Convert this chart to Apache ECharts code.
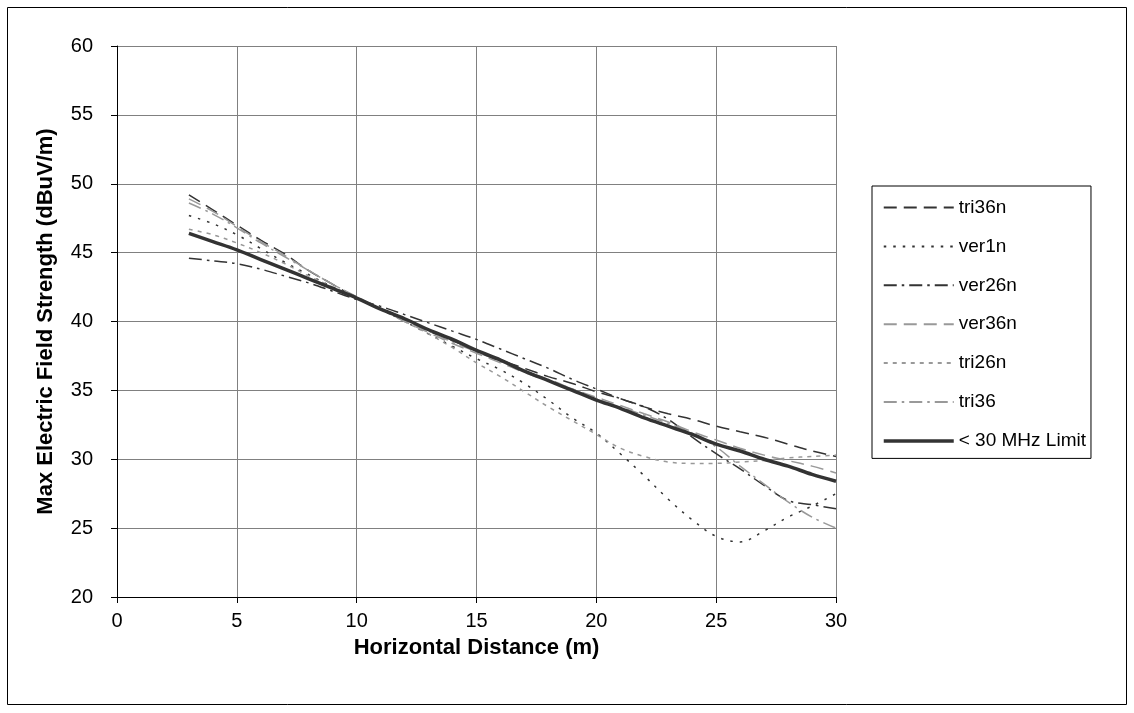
<!DOCTYPE html>
<html>
<head>
<meta charset="utf-8">
<script src="https://cdn.jsdelivr.net/npm/echarts@6/dist/echarts.min.js"></script>
<style>
html, body {margin: 0; padding: 0; background: #fff;}
#chart {width: 1134px; height: 713px;}
</style>
</head>
<body>
<div id="chart"></div>
<script>
// distance (m) of each reading
var distance = [3, 4, 5, 6, 7, 8, 9, 10, 11, 12, 13, 14, 15, 16, 17, 18, 19, 20, 21, 22, 23, 24, 25, 26, 27, 28, 29, 30]

var tri36n = [49.2, 48.1, 47.0, 45.9, 44.9, 43.7, 42.7, 41.7, 40.9, 40.1, 39.3, 38.6, 37.9, 37.2, 36.6, 36.0, 35.5, 34.9, 34.4, 33.8, 33.3, 32.9, 32.4, 32.0, 31.6, 31.1, 30.6, 30.2]
var ver1n = [47.7, 47.1, 46.3, 45.3, 44.3, 43.4, 42.5, 41.7, 40.9, 40.0, 39.1, 38.2, 37.3, 36.5, 35.5, 34.3, 33.0, 31.9, 30.4, 28.8, 27.1, 25.6, 24.4, 24.0, 24.8, 25.8, 26.6, 27.5]
var ver26n = [44.6, 44.4, 44.2, 43.8, 43.3, 42.8, 42.2, 41.6, 41.1, 40.5, 39.9, 39.3, 38.7, 38.0, 37.3, 36.6, 35.8, 35.1, 34.4, 33.8, 32.9, 31.6, 30.4, 29.3, 28.1, 27.0, 26.7, 26.4]
var ver36n = [48.9, 48.0, 46.9, 45.8, 44.8, 43.7, 42.7, 41.8, 40.9, 40.0, 39.2, 38.4, 37.7, 37.0, 36.3, 35.7, 35.1, 34.5, 33.9, 33.3, 32.7, 32.0, 31.4, 30.8, 30.3, 29.9, 29.5, 29.0]
var tri26n = [46.7, 46.3, 45.7, 45.0, 44.2, 43.3, 42.5, 41.7, 40.9, 40.0, 39.1, 38.1, 37.0, 36.0, 34.9, 33.8, 32.8, 31.8, 30.8, 30.2, 29.8, 29.7, 29.7, 29.8, 29.9, 30.1, 30.2, 30.3]
var tri36 = [48.6, 47.8, 46.8, 45.7, 44.7, 43.7, 42.7, 41.8, 40.9, 40.1, 39.3, 38.5, 37.8, 37.1, 36.4, 35.8, 35.1, 34.4, 33.8, 33.2, 32.6, 31.9, 30.9, 29.5, 28.2, 26.9, 25.8, 25.0]
var limit30 = [46.4, 45.8, 45.2, 44.5, 43.8, 43.1, 42.4, 41.7, 40.9, 40.2, 39.4, 38.7, 37.9, 37.2, 36.4, 35.7, 35.0, 34.3, 33.7, 33.0, 32.4, 31.8, 31.1, 30.6, 30.0, 29.5, 28.9, 28.4]

var FONT = '"Liberation Sans", Arial, sans-serif'
var DARK = '#333333'
var GREY = '#999999'

function line(name, values, color, width, dash) {
    return {
        name: name,
        type: 'line',
        data: distance.map(function (d, i) { return [d, values[i]] }),
        smooth: 0.35,
        symbol: 'none',
        lineStyle: {color: color, width: width, type: dash},
        itemStyle: {color: color}
    }
}

var chart = echarts.init(document.getElementById('chart'))
chart.setOption({
    animation: false,
    backgroundColor: '#fff',
    textStyle: {fontFamily: FONT},
    graphic: [{
        type: 'rect',
        shape: {x: 7.5, y: 7.5, width: 1119, height: 697},
        style: {fill: 'none', stroke: '#000', lineWidth: 1},
        silent: true
    }],
    grid: {left: 117, top: 46, width: 719, height: 551, outerBoundsMode: 'none'},
    legend: {
        orient: 'vertical',
        left: 872,
        top: 186,
        padding: [12, 5, 8, 10],
        itemWidth: 70,
        itemHeight: 14,
        itemGap: 19.9,
        itemTextGap: 1,
        borderColor: '#000',
        borderWidth: 1,
        itemStyle: {opacity: 0},
        textStyle: {fontFamily: FONT, fontSize: 19, color: '#000'},
        data: ['tri36n', 'ver1n', 'ver26n', 'ver36n', 'tri26n', 'tri36',
            {name: '< 30 MHz Limit', lineStyle: {width: 3.5}}]
    },
    xAxis: {
        type: 'value',
        min: 0,
        max: 30,
        interval: 5,
        name: 'Horizontal Distance (m)',
        nameLocation: 'middle',
        nameGap: 40,
        nameTextStyle: {fontFamily: FONT, fontSize: 22, fontWeight: 'bold', color: '#000'},
        axisLine: {lineStyle: {color: '#000', width: 1}},
        axisTick: {show: true, length: 6, lineStyle: {color: '#000'}},
        axisLabel: {fontFamily: FONT, fontSize: 20, color: '#000', margin: 14},
        splitLine: {show: true, lineStyle: {color: '#808080', width: 1}}
    },
    yAxis: {
        type: 'value',
        min: 20,
        max: 60,
        interval: 5,
        name: 'Max Electric Field Strength (dBuV/m)',
        nameLocation: 'middle',
        nameGap: 60,
        nameTextStyle: {fontFamily: FONT, fontSize: 22, fontWeight: 'bold', color: '#000'},
        axisLine: {show: true, lineStyle: {color: '#000', width: 1}},
        axisTick: {show: true, length: 6, lineStyle: {color: '#000'}},
        axisLabel: {fontFamily: FONT, fontSize: 20, color: '#000', margin: 24},
        splitLine: {show: true, lineStyle: {color: '#808080', width: 1}}
    },
    series: [
        line('tri36n', tri36n, DARK, 1.5, [13, 7]),
        line('ver1n', ver1n, DARK, 1.5, [2.5, 7]),
        line('ver26n', ver26n, DARK, 1.5, [13, 5, 2.5, 5]),
        line('ver36n', ver36n, GREY, 1.5, [13, 7]),
        line('tri26n', tri26n, GREY, 1.5, [4, 5]),
        line('tri36', tri36, GREY, 1.5, [13, 5, 2.5, 5]),
        line('< 30 MHz Limit', limit30, DARK, 3.5, 'solid')
    ]
})
</script>
</body>
</html>
